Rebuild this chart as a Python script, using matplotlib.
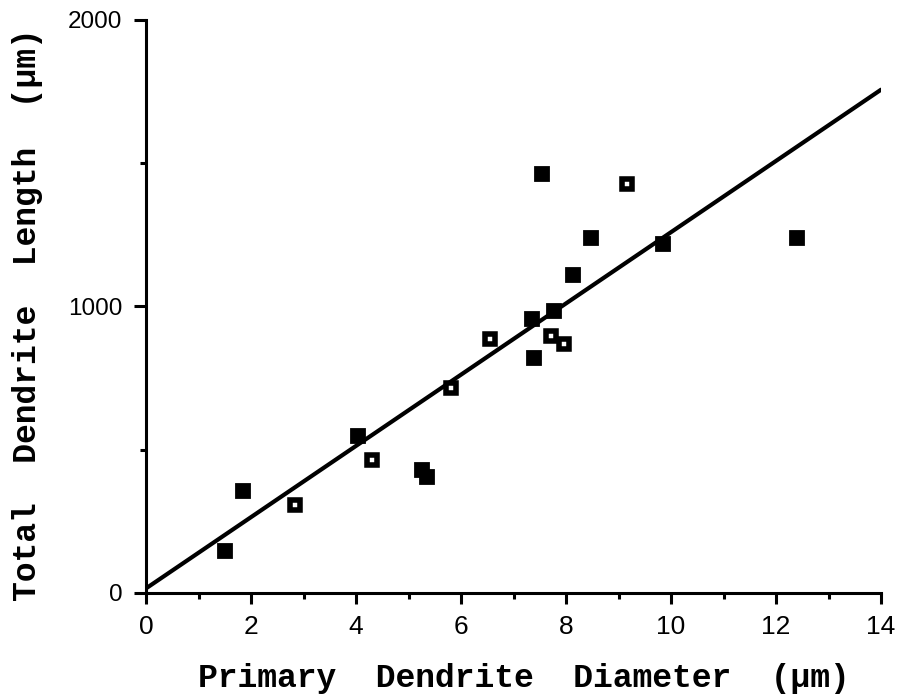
import matplotlib
matplotlib.use("Agg")
import matplotlib.pyplot as plt
from matplotlib.ticker import MultipleLocator

# Primary dendrite diameter (um) vs total dendrite length (um)
filled_diam = [1.50, 1.85, 4.04, 5.26, 5.35, 7.35, 7.77, 7.39, 7.54, 8.48, 8.13, 9.85, 12.40]
filled_len = [145, 354, 548, 427, 403, 957, 984, 821, 1461, 1237, 1110, 1218, 1239]

open_diam = [2.84, 4.30, 5.81, 6.55, 7.71, 7.96, 9.16]
open_len = [306, 462, 716, 887, 897, 869, 1428]

# Linear fit drawn across the full x range
fit_intercept = 15
fit_slope = 124.4
fit_x = [0, 14]

x_ticks = [0, 2, 4, 6, 8, 10, 12, 14]
y_ticks = [0, 1000, 2000]

fig = plt.figure(figsize=(9.06, 6.95), dpi=100)
ax = fig.add_axes([146 / 906, 1 - 592.7 / 695, (881 - 146) / 906, (592.7 - 20) / 695])

fit_y = [fit_intercept + fit_slope * x for x in fit_x]
ax.plot(fit_x, fit_y, color="black", lw=3.0, solid_capstyle="round", zorder=2)

ax.plot(filled_diam, filled_len, linestyle="none", marker="s", ms=10.3,
        mfc="black", mec="black", mew=1.3, zorder=3)
ax.plot(open_diam, open_len, linestyle="none", marker="s", ms=7.5,
        mfc="white", mec="black", mew=4.0, zorder=3)

ax.set_xlim(0, 14)
ax.set_ylim(0, 2000)

for side in ("top", "right"):
    ax.spines[side].set_visible(False)
for side in ("left", "bottom"):
    ax.spines[side].set_linewidth(2.2)

ax.set_xticks(x_ticks)
ax.set_yticks(y_ticks)
ax.xaxis.set_minor_locator(MultipleLocator(1))
ax.yaxis.set_minor_locator(MultipleLocator(500))

ax.tick_params(axis="x", which="major", direction="out", length=8, width=2.2, pad=8)
ax.tick_params(axis="x", which="minor", direction="out", length=4.5, width=2.2)
ax.tick_params(axis="y", which="major", direction="out", length=9, width=2.2, pad=8)
ax.tick_params(axis="y", which="minor", direction="out", length=4.5, width=2.2)

for lab in ax.get_xticklabels():
    lab.set_fontfamily("Liberation Sans")
    lab.set_fontsize(19)
for lab in ax.get_yticklabels():
    lab.set_fontfamily("Liberation Sans")
    lab.set_fontsize(17.5)

label_font = dict(family="Liberation Mono", weight="bold", size=23.8)
ax.set_xlabel("Primary  Dendrite  Diameter  (\u00b5m)", **label_font)
ax.set_ylabel("Total  Dendrite  Length  (\u00b5m)", **label_font)
ax.xaxis.set_label_coords(0.514, -0.123)
ax.yaxis.set_label_coords(-0.14, 0.485)

fig.savefig("out.png", dpi=100, facecolor="white")
